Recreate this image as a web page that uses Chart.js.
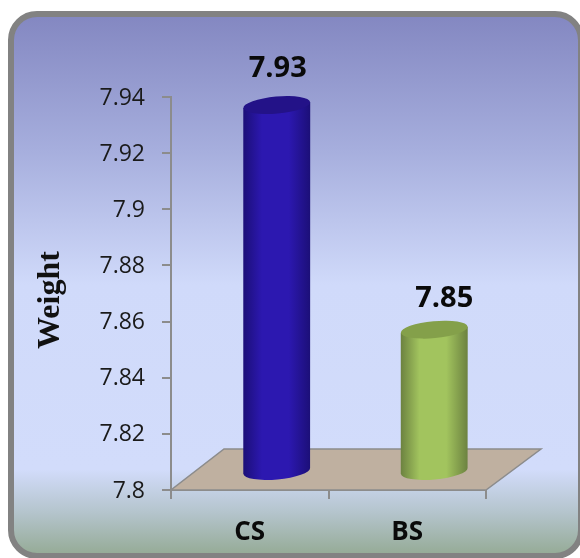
<!DOCTYPE html>
<html>
<head>
<meta charset="utf-8">
<style>
  html, body { margin: 0; padding: 0; background: #fff; }
  #wrap { width: 580px; height: 558px; }
</style>
<script src="https://cdn.jsdelivr.net/npm/chart.js@4"></script>
</head>
<body>
<div id="wrap"><canvas id="weightChart" width="580" height="558"></canvas></div>
<script>
const categories = ['CS', 'BS'];
const weights = [7.93, 7.85];
const tickValues = [7.94, 7.92, 7.9, 7.88, 7.86, 7.84, 7.82, 7.8];

// cylinder colours: edge, middle, lid
const barColors = [
  { edge: '#1c0f78', mid: '#2c18b0', lid: '#231288' },
  { edge: '#6c8240', mid: '#a2c45e', lid: '#84a04a' }
];
// value labels sit a little differently over each cylinder
const labelNudge = [[1, -28], [10, -23]];

const GREY = '#8c8c8c';
const DEPTH_X = 53;
const DEPTH_Y = 41;
const BAR_SHIFT_X = 27;
const BAR_SHIFT_Y = 20;
const TILT = -0.09;

// rounded panel behind everything
const panelPlugin = {
  id: 'panel',
  beforeDraw(chart) {
    const c = chart.ctx;
    const x = 11, y = 14, w = 570, h = 542;
    const g = c.createLinearGradient(0, y, 0, y + h);
    g.addColorStop(0, '#8387c1');
    g.addColorStop(0.25, '#a6aedd');
    g.addColorStop(0.5, '#d0dafa');
    g.addColorStop(0.84, '#d2dcfb');
    g.addColorStop(0.92, '#b4c4cc');
    g.addColorStop(1, '#94aa94');
    c.save();
    c.beginPath();
    c.roundRect(x, y, w, h, 26);
    c.fillStyle = g;
    c.fill();
    c.lineWidth = 6;
    c.strokeStyle = '#828282';
    c.stroke();
    c.restore();
  }
};

// tan floor sitting on the category axis, drawn under the cylinders
const floorPlugin = {
  id: 'floor',
  beforeDatasetsDraw(chart) {
    const c = chart.ctx;
    const { left, right, bottom } = chart.chartArea;
    c.save();
    c.beginPath();
    c.moveTo(left, bottom);
    c.lineTo(right, bottom);
    c.lineTo(right + DEPTH_X + 2, bottom - DEPTH_Y);
    c.lineTo(left + DEPTH_X, bottom - DEPTH_Y);
    c.closePath();
    c.fillStyle = '#bfb0a0';
    c.fill();
    c.lineWidth = 1.5;
    c.strokeStyle = GREY;
    c.stroke();
    c.restore();
  }
};

// turns each bar element into a cylinder pushed back into the depth of the floor
const cylinderPlugin = {
  id: 'cylinder',
  afterDatasetsDraw(chart) {
    const c = chart.ctx;
    const meta = chart.getDatasetMeta(0);
    meta.data.forEach((bar, i) => {
      const col = barColors[i];
      const cx = bar.x + BAR_SHIFT_X;
      const rx = bar.width / 2;
      const ry = 8.5;
      const top = bar.y - BAR_SHIFT_Y;
      const base = chart.chartArea.bottom - BAR_SHIFT_Y + 1;
      const lean = rx * Math.sin(TILT);

      const g = c.createLinearGradient(cx - rx, 0, cx + rx, 0);
      g.addColorStop(0, col.edge);
      g.addColorStop(0.28, col.mid);
      g.addColorStop(0.68, col.mid);
      g.addColorStop(1, col.edge);

      c.save();
      c.beginPath();
      c.moveTo(cx - rx, top - lean);
      c.lineTo(cx - rx, base - lean);
      c.ellipse(cx, base, rx, ry, TILT, Math.PI, 0, true);
      c.lineTo(cx + rx, top + lean);
      c.closePath();
      c.fillStyle = g;
      c.fill();
      c.beginPath();
      c.ellipse(cx, top, rx, ry, TILT, 0, Math.PI * 2);
      c.fillStyle = col.lid;
      c.fill();
      c.restore();

      // value above the cylinder
      c.save();
      c.font = 'bold 29px "Open Sans", "Noto Sans", sans-serif';
      c.fillStyle = '#0a0a0a';
      c.textAlign = 'center';
      c.textBaseline = 'alphabetic';
      c.fillText(String(weights[i]), cx + labelNudge[i][0], top + labelNudge[i][1]);
      c.restore();
    });
  }
};

// axis title, placed by hand because the built-in one hugs the canvas edge
const axisTitlePlugin = {
  id: 'axisTitle',
  afterDraw(chart) {
    const c = chart.ctx;
    c.save();
    c.translate(51, 300);
    c.rotate(-Math.PI / 2);
    c.font = 'bold 32px "Liberation Serif", serif';
    c.fillStyle = '#111';
    c.textAlign = 'center';
    c.textBaseline = 'middle';
    c.fillText('Weight', 0, 0);
    c.restore();
  }
};

new Chart(document.getElementById('weightChart'), {
  type: 'bar',
  data: {
    labels: categories,
    datasets: [{
      data: weights,
      backgroundColor: 'transparent',
      borderWidth: 0,
      barPercentage: 0.85,
      categoryPercentage: 0.5
    }]
  },
  plugins: [panelPlugin, floorPlugin, cylinderPlugin, axisTitlePlugin],
  options: {
    responsive: false,
    animation: false,
    layout: { padding: { top: 97, right: 94 } },
    plugins: {
      legend: { display: false },
      title: { display: false },
      tooltip: { enabled: false }
    },
    scales: {
      y: {
        min: 7.8,
        max: 7.94,
        afterFit(scale) { scale.width = 171; },
        afterBuildTicks(scale) { scale.ticks = tickValues.map(value => ({ value })); },
        grid: { display: true, drawOnChartArea: false, drawTicks: true, tickLength: 9, color: GREY, lineWidth: 2 },
        border: { display: true, color: GREY, width: 2 },
        ticks: {
          color: '#1a1a1a',
          padding: 17,
          labelOffset: 1,
          font: { family: '"Open Sans", "Noto Sans", sans-serif', size: 23 },
          callback: value => String(value)
        }
      },
      x: {
        afterFit(scale) { scale.height = 68; },
        grid: { display: true, drawOnChartArea: false, drawTicks: true, tickLength: 9, color: GREY, lineWidth: 2 },
        border: { display: true, color: GREY, width: 2 },
        ticks: {
          color: '#0a0a0a',
          padding: 18,
          font: { family: '"Open Sans", "Noto Sans", sans-serif', size: 26, weight: 'bold' }
        }
      }
    }
  }
});
</script>
</body>
</html>
